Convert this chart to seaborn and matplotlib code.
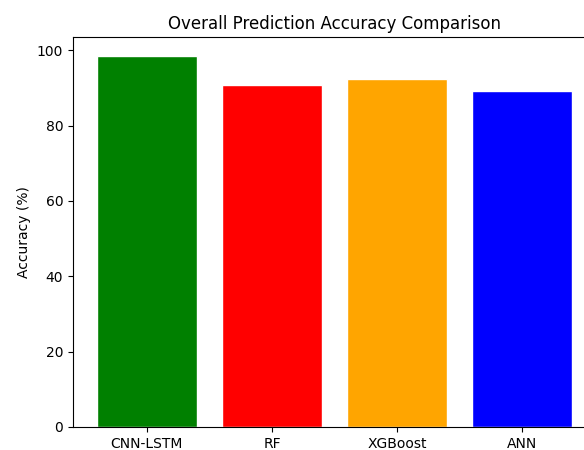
import matplotlib
matplotlib.use("Agg")
import matplotlib.pyplot as plt
import seaborn as sns
import pandas as pd

# Model names and their overall accuracy (%)
models = ["CNN-LSTM", "RF", "XGBoost", "ANN"]
accuracy = [98.6, 90.7, 92.3, 89.1]
bar_colors = ["green", "red", "orange", "blue"]

df = pd.DataFrame({"Model": models, "Accuracy": accuracy})

sns.set_style("ticks", {"text.color": "black", "xtick.color": "black",
                        "ytick.color": "black", "axes.labelcolor": "black",
                        "axes.edgecolor": "black"})
plt.rcParams["font.family"] = ["DejaVu Sans"]

fig = plt.figure(figsize=(5.84, 4.5), dpi=100)
# axes runs a bit past the right edge, like the cropped original
ax = fig.add_axes([73 / 584, 23 / 450, 523 / 584, 390 / 450])

sns.barplot(data=df, x="Model", y="Accuracy", hue="Model", palette=bar_colors,
            saturation=1, width=0.8, legend=False, ax=ax)

ax.set_xlim(-0.59, 3.59)
ax.set_ylim(0, max(accuracy) * 1.05)
ax.set_title("Overall Prediction Accuracy Comparison", fontsize=12)
ax.set_xlabel("")
ax.set_ylabel("Accuracy (%)", fontsize=10)
ax.tick_params(labelsize=10)
for s in ax.spines.values():
    s.set_linewidth(0.8)

fig.savefig("out.png", dpi=100)
